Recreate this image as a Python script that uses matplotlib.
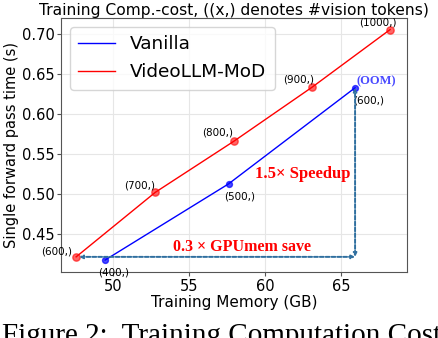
import matplotlib.pyplot as plt

# vision tokens, memory (GB) and forward time (s)
van_tokens = ['(400,)', '(500,)', '(600,)']
van_mem = [49.5, 57.6, 65.9]
van_time = [0.417, 0.5125, 0.633]

mod_tokens = ['(600,)', '(700,)', '(800,)', '(900,)', '(1000,)']
mod_mem = [47.6, 52.8, 57.95, 63.1, 68.2]
mod_time = [0.421, 0.502, 0.566, 0.634, 0.706]

fig = plt.figure(figsize=(4.38, 3.38), dpi=100)
ax = fig.add_axes([0.139, 0.194, 0.79, 0.754])

ax.plot(van_mem, van_time, color='blue', linewidth=1, label='Vanilla')
ax.plot(mod_mem, mod_time, color='red', linewidth=1, label='VideoLLM-MoD')
ax.scatter(van_mem, van_time, color='blue', s=18, alpha=0.7, zorder=3)
ax.scatter(mod_mem, mod_time, color='red', s=28, alpha=0.6, zorder=3)

# point labels
van_off = [(6, -11), (8, -11), (10, -11)]
for t, x, y, o in zip(van_tokens, van_mem, van_time, van_off):
    ax.annotate(t, (x, y), xytext=o, textcoords='offset points', fontsize=7.5, ha='center')
mod_off = [(-14, 2), (-11, 3), (-12, 4), (-10, 3), (-9, 3)]
for t, x, y, o in zip(mod_tokens, mod_mem, mod_time, mod_off):
    ax.annotate(t, (x, y), xytext=o, textcoords='offset points', fontsize=7.5, ha='center')

# savings arrows
arrow = dict(arrowstyle='<->', linestyle=(0, (2, 1)), color='#2f6f9f', lw=1.4,
             shrinkA=0, shrinkB=0, mutation_scale=5)
ax.annotate('', xy=(mod_mem[0] + 0.2, mod_time[0]), xytext=(van_mem[-1], mod_time[0]), arrowprops=arrow)
ax.annotate('', xy=(van_mem[-1], van_time[-1]), xytext=(van_mem[-1], mod_time[0]), arrowprops=arrow)

ax.text(62.45, 0.525, '1.5× Speedup', color='red', fontsize=12, fontweight='bold',
        family='Liberation Serif', ha='center', va='center')
ax.text(58.5, 0.434, '0.3 × GPUmem save', color='red', fontsize=11.5, fontweight='bold',
        family='Liberation Serif', ha='center', va='center')
ax.text(67.3, 0.6415, '(OOM)', color='#4a4aff', fontsize=9, fontweight='bold',
        family='Liberation Serif', ha='center', va='center')

ax.set_xlim(46.6, 69.3)
ax.set_ylim(0.4015, 0.721)
ax.set_xticks([50, 55, 60, 65])
ax.set_yticks([0.45, 0.50, 0.55, 0.60, 0.65, 0.70])
ax.tick_params(labelsize=10.5, length=3, pad=1.5, color='#555555')
for s in ax.spines.values():
    s.set_color('#555555')
ax.grid(True, color='#e6e6e6', linewidth=0.8)
ax.set_xlabel('Training Memory (GB)', fontsize=11, labelpad=1)
ax.set_ylabel('Single forward pass time (s)', fontsize=10.5, labelpad=2)
ax.set_title('Training Comp.-cost, ((x,) denotes #vision tokens)', fontsize=11.2, pad=2)
ax.legend(loc='upper left', fontsize=13.3, handlelength=2, borderpad=0.45, labelspacing=0.55)

fig.text(0.005, 0.045, 'Figure 2:  Training Computation Cost', family='Liberation Serif',
         fontsize=21, ha='left', va='top')

fig.savefig('out.png', dpi=100)
